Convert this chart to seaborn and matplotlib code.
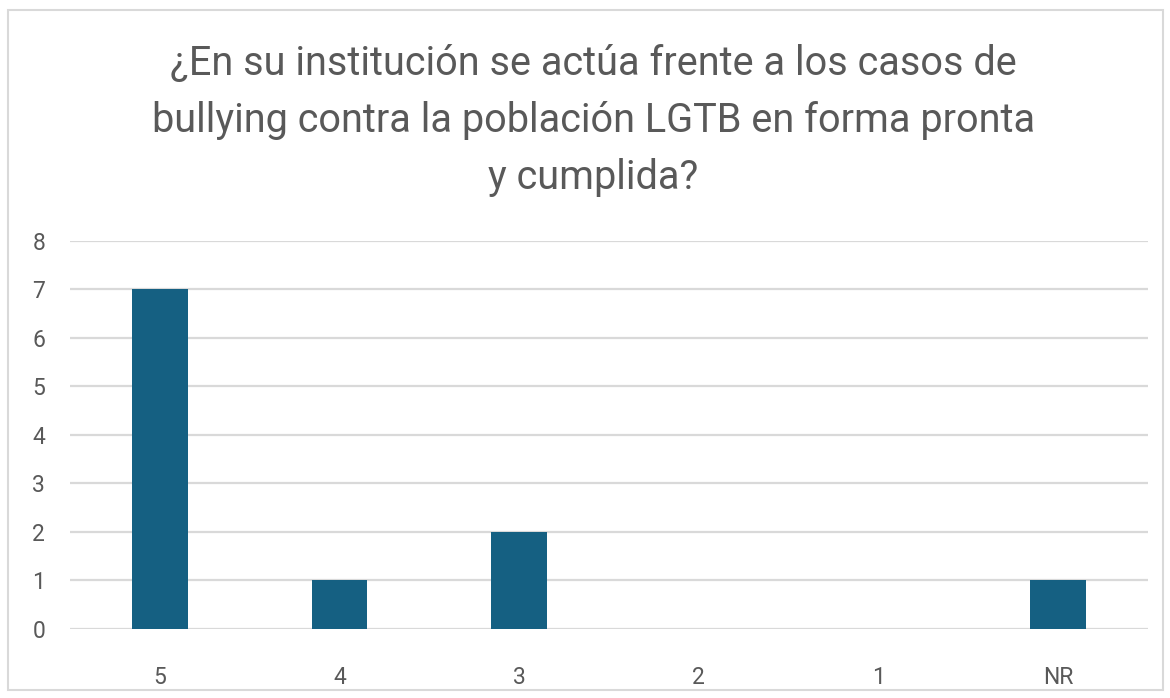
import pandas as pd
import matplotlib.pyplot as plt
import seaborn as sns
from matplotlib.patches import Rectangle

# --- datos ---
categorias = ['5', '4', '3', '2', '1', 'NR']
respuestas = [7, 1, 2, 0, 0, 1]
titulo = ('¿En su institución se actúa frente a los casos de\n'
          'bullying contra la población LGTB en forma pronta\n'
          'y cumplida?')

df = pd.DataFrame({'Respuesta': categorias, 'Frecuencia': respuestas})

sns.set_theme(style='white')
plt.rcParams['font.family'] = ['Roboto', 'DejaVu Sans']

fig = plt.figure(figsize=(11.70, 6.98), dpi=100)
ax = fig.add_axes([0.060, 0.099, 0.921, 0.556])

sns.barplot(data=df, x='Respuesta', y='Frecuencia', order=categorias,
            color='#156082', saturation=1, width=0.31, ax=ax, zorder=3,
            linewidth=0)

ax.set_xlim(-0.5, 5.5)
ax.set_ylim(0, 8)
ax.set_yticks(range(0, 9))
ax.grid(axis='y', color='#d9d9d9', linewidth=1.6, zorder=0)
ax.set_axisbelow(True)
for s in ax.spines.values():
    s.set_visible(False)
ax.set_xlabel('')
ax.set_ylabel('')
ax.tick_params(axis='both', length=0, labelsize=16.5, labelcolor='#595959')
ax.tick_params(axis='x', pad=27)
ax.tick_params(axis='y', pad=18)

fig.text(0.507, 0.828, titulo, ha='center', va='center', fontsize=28.5,
         color='#595959', linespacing=1.58)

# marco del gráfico
fig.patches.append(Rectangle((0.007, 0.012), 0.987, 0.973, transform=fig.transFigure,
                             fill=False, edgecolor='#d9d9d9', linewidth=1.5))

plt.savefig('out.png', dpi=100)
